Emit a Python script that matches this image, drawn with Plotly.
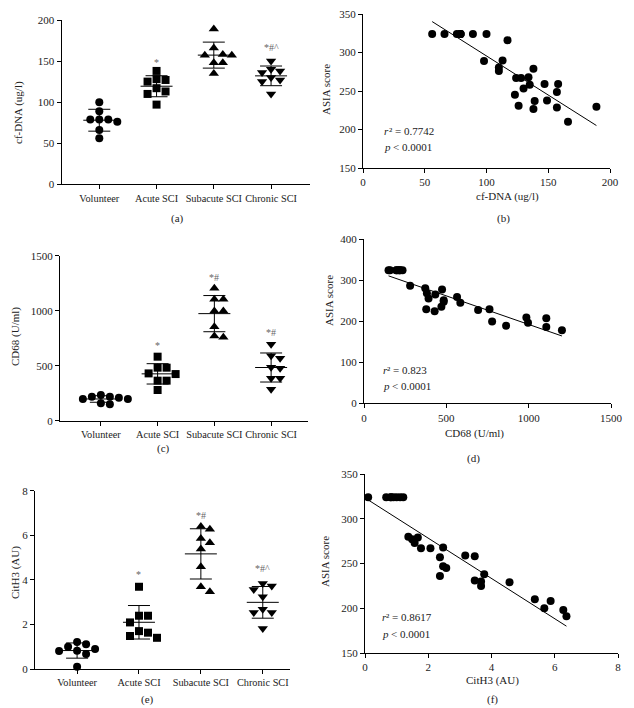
import numpy as np
import plotly.graph_objects as go

W, H = 634, 708
PAGE = 8  # browser body margin: the figure starts 8 px in from the window corner
FONT = "Liberation Serif"

groups = ["Volunteer", "Acute SCI", "Subacute SCI", "Chronic SCI"]
symbols = ["circle", "square", "triangle-up", "triangle-down"]

# cf-DNA (ug/l) per group
cfdna_vol = [100, 89, 79, 79, 79, 76, 66, 56]
cfdna_acute = [138, 128, 127, 125, 117, 113, 110, 97]
cfdna_subacute = [189, 166, 158, 157, 157, 148, 148, 135]
cfdna_chronic = [150, 140, 138, 136, 130, 127, 125, 110]

# CD68 (U/ml) per group
cd68_vol = [234, 218, 218, 209, 197, 197, 158, 149]
cd68_acute = [582, 482, 482, 430, 424, 364, 364, 279]
cd68_subacute = [1203, 1103, 1103, 997, 997, 855, 770, 758]
cd68_chronic = [695, 591, 567, 485, 476, 385, 385, 285]

# CitH3 (AU) per group
cith3_vol = [1.21, 1.11, 1.0, 0.9, 0.82, 0.81, 0.67, 0.1]
cith3_acute = [3.69, 2.39, 2.39, 2.09, 1.70, 1.63, 1.48, 1.40]
cith3_subacute = [6.39, 6.27, 5.86, 5.67, 5.38, 4.59, 3.69, 3.47]
cith3_chronic = [3.84, 3.72, 3.57, 3.24, 2.68, 2.53, 2.53, 1.82]

# significance marks above groups (text, y value)
sig_a = [("", 0), ("*", 148), ("*#", 205), ("*#^", 167)]
sig_c = [("", 0), ("*", 682), ("*#", 1300), ("*#", 800)]
sig_e = [("", 0), ("*", 4.25), ("*#", 6.9), ("*#^", 4.5)]

# correlation with ASIA score
asia_cfdna_x = [56, 66, 76, 79, 79, 79, 89, 100, 117, 98, 113, 110, 110, 138, 124, 128,
                134, 130, 135, 147, 158, 157, 123, 126, 139, 138, 149, 157, 166, 189]
asia_cfdna_y = [324, 324, 324, 324, 324, 324, 324, 324, 316, 289, 289.5, 280.6, 276, 279,
                267, 267, 268, 253.4, 258, 259, 259, 248.6, 245, 230.7, 237, 226.7, 237.6,
                228.7, 210, 229.5]
asia_cd68_x = [149, 158, 197, 197, 209, 218, 218, 234, 280, 372, 382, 433, 474, 392, 484,
               484, 470, 378, 429, 565, 585, 693, 762, 778, 863, 986, 996, 1107, 1107, 1202]
asia_cd68_y = [324, 324, 324, 324, 324, 324, 324, 324, 286, 280, 268, 265, 277, 255, 251,
               247, 235, 229, 224, 259, 245, 227, 229, 199, 189, 209, 196, 207, 186, 178]
asia_cith3_x = [0.1, 0.67, 0.81, 0.82, 0.9, 1.0, 1.11, 1.21, 1.37, 1.49, 1.57, 1.67, 1.77,
                2.07, 2.47, 2.37, 2.47, 2.57, 2.37, 3.17, 3.47, 3.47, 3.67, 3.67, 3.77,
                4.57, 5.37, 5.67, 5.87, 6.27, 6.37]
asia_cith3_y = [324, 324, 324, 324, 324, 324, 324, 324, 280, 277, 273, 279, 267, 267, 268,
                257, 247, 245, 236, 259, 258, 231, 230, 225, 238, 229, 210, 200, 208, 198, 191]

# fitted lines (intercept, slope) and stats text
fit_cfdna = (397.0, -1.015)
fit_cd68 = (331.0, -0.139)
fit_cith3 = (323.3, -22.5)
stats_cfdna = ("0.7742", "< 0.0001")
stats_cd68 = ("0.823", "< 0.0001")
stats_cith3 = ("0.8617", "< 0.0001")


# window pixels -> paper fractions
def px(x):
    return min(max((x - PAGE) / W, 0), 1)


def py(y):
    return min(max(1 - (y - PAGE) / H, 0), 1)


def swarm(vals, ppu_y, ppu_x, step=9.0, gap=7.5):
    vals = np.asarray(vals, dtype=float)
    placed = []
    offs = np.zeros(len(vals))
    cands = [0] + [s * j for j in range(1, 8) for s in (1, -1)]
    for i in np.argsort(-vals, kind="stable"):
        yp = vals[i] * ppu_y
        for c in cands:
            xp = c * step
            if all((xp - a) ** 2 + (yp - b) ** 2 >= gap ** 2 for a, b in placed):
                break
        placed.append((xp, yp))
        offs[i] = xp / ppu_x
    return offs


fig = go.Figure()
annotations = []

axis_common = dict(showline=True, linecolor="black", linewidth=1, ticks="outside",
                   ticklen=4, tickcolor="black", showgrid=False, zeroline=False,
                   automargin=False, tickangle=0, ticklabeloverflow="allow",
                   tickfont=dict(family=FONT, size=11, color="#222"))

dot_panels = [
    dict(n=1, data=[cfdna_vol, cfdna_acute, cfdna_subacute, cfdna_chronic], sig=sig_a,
         xr=[-0.66, 3.68], yr=[0, 200], dtick=50, xd=(61.5, 310), yd=(20, 184.3)),
    dict(n=3, data=[cd68_vol, cd68_acute, cd68_subacute, cd68_chronic], sig=sig_c,
         xr=[-0.72, 3.65], yr=[0, 1500], dtick=500, xd=(60, 308), yd=(255.7, 420.7)),
    dict(n=5, data=[cith3_vol, cith3_acute, cith3_subacute, cith3_chronic], sig=sig_e,
         xr=[-0.68, 3.44], yr=[0, 8], dtick=2, xd=(35, 290), yd=(490.7, 669)),
]

for p in dot_panels:
    n = p["n"]
    xa, ya = f"x{n}", f"y{n}"
    ppu_x = (p["xd"][1] - p["xd"][0]) / (p["xr"][1] - p["xr"][0])
    ppu_y = (p["yd"][1] - p["yd"][0]) / (p["yr"][1] - p["yr"][0])
    for g, vals in enumerate(p["data"]):
        offs = swarm(vals, ppu_y, ppu_x)
        fig.add_trace(go.Scatter(
            x=g + offs, y=vals, mode="markers", xaxis=xa, yaxis=ya, cliponaxis=False,
            marker=dict(symbol=symbols[g], size=8 if g < 2 else 9, color="black"),
            showlegend=False))
        m, s = float(np.mean(vals)), float(np.std(vals, ddof=1))
        hw, cw = 16 / ppu_x, 11 / ppu_x
        lx = [g - hw, g + hw, None, g, g, None, g - cw, g + cw, None, g - cw, g + cw]
        ly = [m, m, None, m - s, m + s, None, m + s, m + s, None, m - s, m - s]
        fig.add_trace(go.Scatter(x=lx, y=ly, mode="lines", xaxis=xa, yaxis=ya,
                                 line=dict(color="black", width=1), showlegend=False))
        txt, yv = p["sig"][g]
        if txt:
            annotations.append(dict(text=txt, x=g, y=yv, xref=xa, yref=ya, showarrow=False,
                                    font=dict(family=FONT, size=10, color="#666")))
    key = "" if n == 1 else str(n)
    fig.layout["xaxis" + key] = dict(axis_common, domain=[px(p["xd"][0]), px(p["xd"][1])],
                                     range=p["xr"], tickvals=[0, 1, 2, 3], ticktext=groups,
                                     tickfont=dict(family=FONT, size=10.3, color="#222"),
                                     anchor=ya)
    fig.layout["yaxis" + key] = dict(axis_common, domain=[py(p["yd"][1]), py(p["yd"][0])],
                                     range=p["yr"], dtick=p["dtick"], anchor=xa)

corr_panels = [
    dict(n=2, x=asia_cfdna_x, y=asia_cfdna_y, fit=fit_cfdna, stats=stats_cfdna,
         xr=[0, 200], xdt=50, yr=[150, 350], ydt=50, xd=(363, 610), yd=(14, 168),
         st=(15.4, 197.5, 177.6)),
    dict(n=4, x=asia_cd68_x, y=asia_cd68_y, fit=fit_cd68, stats=stats_cd68,
         xr=[0, 1500], xdt=500, yr=[0, 400], ydt=100, xd=(364, 611), yd=(239, 403.3),
         st=(101, 81, 42)),
    dict(n=6, x=asia_cith3_x, y=asia_cith3_y, fit=fit_cith3, stats=stats_cith3,
         xr=[0, 8], xdt=2, yr=[150, 350], ydt=50, xd=(365, 618), yd=(474, 653),
         st=(0.47, 189.8, 171.6)),
]

for p in corr_panels:
    n = p["n"]
    xa, ya = f"x{n}", f"y{n}"
    fig.add_trace(go.Scatter(x=p["x"], y=p["y"], mode="markers", xaxis=xa, yaxis=ya,
                             cliponaxis=False,
                             marker=dict(symbol="circle", size=8, color="black"),
                             showlegend=False))
    b0, b1 = p["fit"]
    fx = [min(p["x"]), max(p["x"])]
    fig.add_trace(go.Scatter(x=fx, y=[b0 + b1 * v for v in fx], mode="lines",
                             xaxis=xa, yaxis=ya, line=dict(color="black", width=1),
                             showlegend=False))
    sx, sy1, sy2 = p["st"]
    # italic symbol followed by the plain rest of the line
    for sym, rest, yv, shift in (("r", "² = " + p["stats"][0], sy1, 4.5),
                                 ("p", p["stats"][1], sy2, 9)):
        annotations.append(dict(text=sym, x=sx, y=yv, xref=xa, yref=ya, xanchor="left",
                                showarrow=False,
                                font=dict(family=FONT, size=11, color="#222",
                                          style="italic")))
        annotations.append(dict(text=rest, x=sx, y=yv, xref=xa, yref=ya, xanchor="left",
                                xshift=shift, showarrow=False,
                                font=dict(family=FONT, size=11, color="#222")))
    fig.layout[f"xaxis{n}"] = dict(axis_common, domain=[px(p["xd"][0]), px(p["xd"][1])],
                                   range=p["xr"], dtick=p["xdt"], anchor=ya)
    fig.layout[f"yaxis{n}"] = dict(axis_common, domain=[py(p["yd"][1]), py(p["yd"][0])],
                                   range=p["yr"], dtick=p["ydt"], anchor=xa)

# axis titles and panel labels, placed in window pixels
labels = [
    ("cf-DNA (ug/l)", 18, 113, -90), ("ASIA score", 326, 90, -90),
    ("cf-DNA (ug/l)", 507, 197, 0), ("(a)", 177, 218, 0), ("(b)", 503, 219, 0),
    ("CD68 (U/ml)", 15, 337, -90), ("ASIA score", 329, 301, -90),
    ("CD68 (U/ml)", 474, 433, 0), ("(c)", 163, 448, 0), ("(d)", 473, 458, 0),
    ("CitH3 (AU)", 15, 573, -90), ("ASIA score", 325, 562, -90),
    ("CitH3 (AU)", 492, 680, 0), ("(e)", 147, 699, 0), ("(f)", 492, 699, 0),
]
for text, x, y, ang in labels:
    annotations.append(dict(text=text, x=px(x), y=py(y), xref="paper", yref="paper",
                            showarrow=False, textangle=ang, xanchor="center",
                            yanchor="middle", font=dict(family=FONT, size=11, color="#222")))

fig.update_layout(width=W, height=H, margin=dict(l=0, r=0, t=0, b=0, autoexpand=False),
                  paper_bgcolor="white", plot_bgcolor="white",
                  annotations=annotations, showlegend=False)

fig.write_html("out.html")
